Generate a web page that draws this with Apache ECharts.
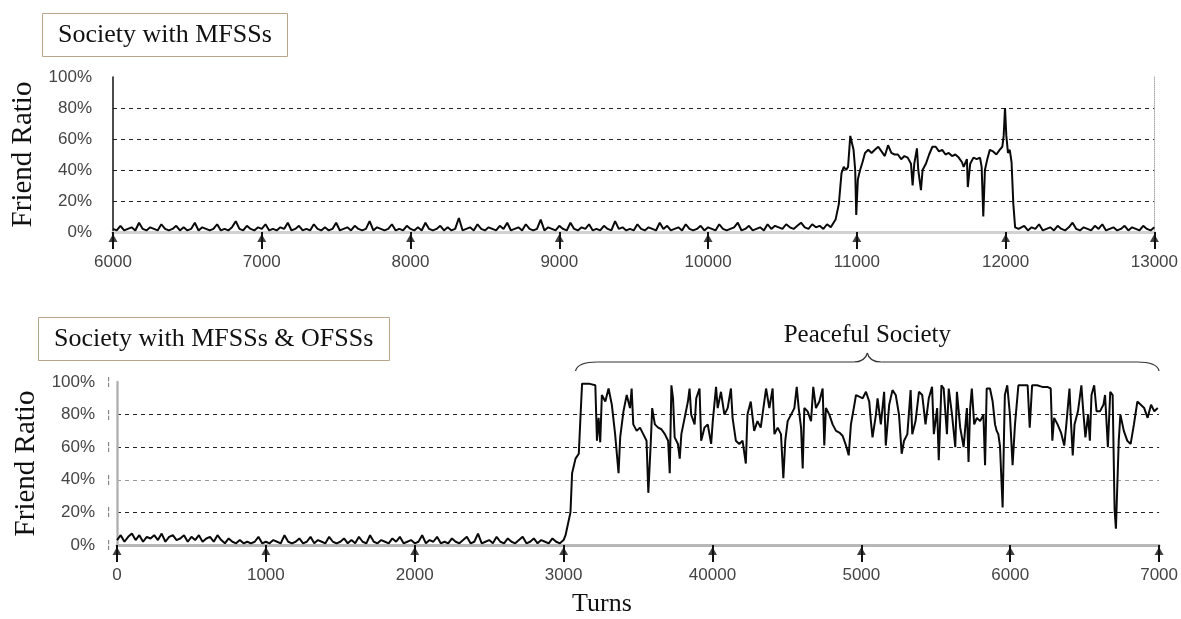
<!DOCTYPE html>
<html>
<head>
<meta charset="utf-8">
<title>Friend Ratio</title>
<script src="https://cdn.jsdelivr.net/npm/echarts@6.0.0/dist/echarts.min.js"></script>
<style>
  html, body { margin: 0; padding: 0; background: #fff; }
  #chart { width: 1181px; height: 619px; }
</style>
</head>
<body>
<div id="chart"></div>
<script>
// ticks
const topTicks = [6000, 7000, 8000, 9000, 10000, 11000, 12000, 13000]
const topTickLabels = ['6000', '7000', '8000', '9000', '10000', '11000', '12000', '13000']
const bottomTicks = [0, 1000, 2000, 3000, 4000, 5000, 6000, 7000]
const bottomTickLabels = ['0', '1000', '2000', '3000', '40000', '5000', '6000', '7000']

// top panel: noise 6000..10825 every 25 turns
const topNoiseStart = 6000
const topNoiseStep = 25
const topNoiseA = [
  2, 1, 4, 1, 2, 3, 1, 6, 2, 1, 3, 2, 1, 5, 2, 1, 2, 4, 1, 3,
  1, 2, 6, 1, 3, 2, 1, 2, 5, 1, 2, 1, 3, 7, 2, 1, 4, 2, 1, 3,
  2, 5, 1, 2, 1, 3, 2, 6, 1, 2, 4, 1, 2, 1, 5, 2, 1, 3, 1, 2,
  6, 1, 2, 3, 1, 4, 2, 1, 2, 7, 1, 3, 2, 1, 2, 5, 1, 2, 1, 4,
  2, 1, 3, 1, 6, 2, 1, 2, 4, 1, 3, 1, 2, 9, 1, 2, 3, 1, 5, 2,
  1, 3, 2, 1, 4, 2, 6, 1, 2, 3, 1, 5, 2, 1, 2, 8, 1, 3, 2, 1,
  4, 2, 1, 6, 2, 1, 3, 2, 5, 1, 2, 1, 4, 2, 1, 7, 2, 3, 1, 2,
  1, 5, 2, 1, 3, 2, 1, 6, 2, 4, 1, 2, 3, 1, 5, 2, 1, 2, 4, 1,
  3, 2, 1, 5, 2, 1, 2, 3, 6, 1, 2, 4, 1, 2, 3, 1, 5, 2, 4, 3,
  2, 5, 3, 2, 4, 6, 3, 2, 5, 3, 4, 2, 5, 3
]
// top panel: the burst between ~10850 and ~12090
const topBurst = [
  [10836, 3], [10857, 8], [10879, 18], [10897, 38], [10912, 42], [10928, 40], [10941, 42], [10956, 62],
  [10967, 63], [10978, 53], [10989, 40], [10996, 11], [11007, 34], [11022, 40], [11038, 45], [11055, 51],
  [11077, 53], [11099, 51], [11121, 53], [11144, 55], [11166, 52], [11188, 49], [11210, 56], [11232, 51],
  [11254, 50], [11276, 50], [11298, 47], [11320, 49], [11342, 48], [11364, 44], [11375, 30], [11386, 44],
  [11404, 54], [11413, 40], [11431, 27], [11442, 40], [11464, 44], [11486, 50], [11508, 55], [11530, 55],
  [11552, 52], [11574, 53], [11596, 50], [11618, 51], [11640, 49], [11662, 50], [11685, 48], [11707, 45],
  [11718, 42], [11740, 47], [11746, 29], [11762, 44], [11784, 48], [11806, 47], [11828, 48], [11839, 42],
  [11850, 10], [11861, 40], [11877, 47], [11894, 53], [11916, 52], [11938, 50], [11960, 53], [11978, 55],
  [11987, 62], [11996, 80], [12005, 62], [12016, 51], [12028, 53], [12040, 45], [12052, 18], [12064, 3],
  [12087, 2]
]
// top panel: noise 12100..13000 every 25 turns
const topNoiseBStart = 12100
const topNoiseB = [
  2, 4, 1, 3, 2, 5, 1, 2, 3, 1, 4, 2, 1, 3, 6, 2, 1, 3, 2, 1,
  4, 2, 5, 1, 2, 3, 1, 2, 4, 1, 3, 2, 1, 4, 2, 1, 3
]

// bottom panel: noise 0..3000 every 25 turns
const bottomNoiseStart = 0
const bottomNoiseStep = 25
const bottomNoise = [
  3, 6, 2, 5, 7, 3, 6, 2, 5, 4, 6, 3, 7, 2, 5, 6, 3, 4, 6, 2,
  5, 3, 6, 2, 4, 5, 2, 6, 3, 1, 4, 2, 1, 3, 1, 2, 1, 2, 5, 1,
  2, 1, 3, 2, 1, 6, 2, 1, 2, 4, 1, 2, 5, 1, 3, 2, 1, 5, 2, 1,
  2, 4, 1, 3, 1, 5, 2, 1, 6, 2, 1, 3, 2, 1, 4, 2, 5, 1, 2, 3,
  1, 2, 6, 1, 3, 2, 5, 1, 2, 1, 4, 2, 1, 3, 5, 1, 2, 7, 1, 2,
  3, 1, 5, 2, 1, 4, 2, 1, 3, 5, 1, 2, 4, 1, 3, 2, 1, 4, 2, 1,
  3
]
// bottom panel: rise and peaceful period
const bottomPeace = [
  [3013, 6], [3046, 20], [3057, 44], [3080, 53], [3102, 56], [3113, 78], [3124, 99], [3169, 99],
  [3213, 98], [3224, 64], [3235, 78], [3246, 63], [3257, 92], [3280, 88], [3302, 96], [3324, 86],
  [3346, 68], [3369, 44], [3380, 66], [3402, 82], [3424, 92], [3446, 84], [3457, 96], [3468, 74],
  [3491, 70], [3513, 72], [3535, 68], [3557, 64], [3569, 32], [3586, 64], [3595, 84], [3613, 74],
  [3635, 72], [3657, 71], [3680, 68], [3702, 64], [3713, 44], [3724, 98], [3735, 90], [3746, 66],
  [3768, 62], [3780, 53], [3791, 68], [3813, 78], [3835, 88], [3846, 96], [3857, 80], [3880, 74],
  [3891, 90], [3913, 96], [3924, 64], [3946, 72], [3968, 74], [3991, 62], [4002, 76], [4024, 97],
  [4035, 84], [4057, 94], [4080, 80], [4102, 84], [4124, 96], [4135, 78], [4157, 64], [4180, 62],
  [4202, 64], [4224, 50], [4235, 80], [4257, 88], [4280, 70], [4302, 76], [4324, 72],
  [4360, 96], [4382, 84], [4404, 96], [4416, 68], [4438, 72], [4460, 68], [4476, 41], [4489, 64],
  [4505, 76], [4528, 80], [4550, 84], [4566, 97], [4579, 84], [4595, 72], [4606, 47], [4617, 84],
  [4639, 82], [4662, 76], [4677, 97], [4695, 84], [4718, 88], [4740, 96], [4751, 61], [4762, 84],
  [4785, 80], [4807, 74], [4830, 70], [4852, 69], [4874, 67], [4897, 61], [4915, 55], [4930, 74],
  [4953, 86], [4964, 92], [4986, 91], [5009, 90], [5031, 94], [5053, 88], [5064, 76], [5075, 66],
  [5098, 80], [5109, 90], [5131, 74], [5153, 94], [5164, 61], [5187, 86], [5209, 95], [5231, 92],
  [5253, 80], [5271, 56], [5287, 64], [5309, 68], [5331, 95], [5342, 68], [5364, 76], [5387, 94],
  [5409, 92], [5431, 74], [5453, 90], [5475, 97], [5487, 68], [5509, 84], [5520, 52], [5538, 98],
  [5553, 96], [5575, 68], [5587, 96], [5609, 80], [5631, 60],
  [5642, 94], [5664, 72], [5687, 60], [5709, 84], [5720, 51], [5731, 84], [5742, 96], [5758, 74],
  [5776, 78], [5798, 76], [5820, 80], [5831, 49], [5842, 96], [5864, 96], [5882, 88], [5898, 74],
  [5909, 70], [5920, 68], [5931, 61], [5949, 23], [5958, 66], [5964, 92], [5980, 98], [5998, 80],
  [6016, 49], [6032, 74], [6055, 98], [6089, 98], [6117, 98], [6131, 72], [6147, 98], [6181, 98],
  [6215, 97], [6249, 97], [6272, 96], [6283, 64], [6295, 78], [6318, 74], [6341, 69], [6363, 61],
  [6375, 72], [6398, 96], [6409, 74], [6420, 55], [6432, 74], [6455, 82], [6478, 98], [6489, 84],
  [6505, 66], [6523, 80], [6535, 64], [6546, 92], [6564, 98], [6580, 82], [6603, 82], [6626, 86],
  [6637, 92], [6656, 60], [6672, 94], [6688, 92], [6701, 22], [6710, 10], [6729, 64], [6740, 80],
  [6763, 70], [6786, 64], [6809, 62], [6831, 74], [6854, 88], [6877, 86], [6900, 84], [6923, 78],
  [6946, 86], [6968, 82], [6991, 84]
]

// span of the "Peaceful Society" brace
const braceFrom = 3080
const braceTo = 7000

const serif = '"Liberation Serif", "DejaVu Serif", serif'
const sans = '"Liberation Sans", Arial, sans-serif'

const topData = topNoiseA.map((v, i) => [topNoiseStart + i * topNoiseStep, v])
  .concat(topBurst)
  .concat(topNoiseB.map((v, i) => [topNoiseBStart + i * topNoiseStep, v]))
const bottomData = bottomNoise.map((v, i) => [bottomNoiseStart + i * bottomNoiseStep, v])
  .concat(bottomPeace)

function bottomXAxis(gridIndex, ticks, labels) {
  return {
    type: 'value',
    gridIndex,
    min: ticks[0],
    max: ticks[ticks.length - 1],
    interval: 1000,
    axisLine: { lineStyle: { color: '#b4b4b4', width: 3 } },
    axisTick: { show: true, length: 17, lineStyle: { color: '#111', width: 2 } },
    axisLabel: {
      margin: 22,
      fontFamily: sans,
      fontSize: 17,
      color: '#444',
      formatter: v => labels[ticks.indexOf(v)] ?? '',
    },
    splitLine: { show: false },
  }
}
function topXAxis(gridIndex, ticks, color, width) {
  return {
    type: 'value',
    gridIndex,
    position: 'top',
    min: ticks[0],
    max: ticks[ticks.length - 1],
    axisLine: { lineStyle: { color, width } },
    axisTick: { show: false },
    axisLabel: { show: false },
    splitLine: { show: false },
  }
}
function leftYAxis(gridIndex, lineColor, lineWidth, labelMargin, gridColors, marks) {
  return {
    type: 'value',
    gridIndex,
    min: 0,
    max: 100,
    interval: 20,
    name: 'Friend Ratio',
    nameLocation: 'middle',
    nameGap: 70,
    nameTextStyle: { fontFamily: serif, fontSize: 29, color: '#111' },
    axisLine: { show: true, lineStyle: { color: lineColor, width: lineWidth } },
    axisTick: { show: false },
    axisLabel: {
      margin: labelMargin,
      fontFamily: sans,
      fontSize: 17,
      color: '#444',
      formatter: v => marks ? `{v|${v}%}{t|¦}` : `${v}%`,
      rich: {
        v: { fontFamily: sans, fontSize: 17, color: '#444' },
        t: { fontFamily: sans, fontSize: 11, color: '#666', padding: [0, 0, 0, 12] },
      },
    },
    splitLine: {
      show: true,
      showMinLine: false,
      showMaxLine: false,
      lineStyle: { type: [4, 4], color: gridColors, width: 1 },
    },
  }
}
function rightYAxis(gridIndex) {
  return {
    type: 'value',
    gridIndex,
    position: 'right',
    min: 0,
    max: 100,
    axisLine: { show: true, lineStyle: { color: '#aaa', type: 'dotted', width: 1 } },
    axisTick: { show: false },
    axisLabel: { show: false },
    splitLine: { show: false },
  }
}
function arrows(xAxisIndex, ticks) {
  return {
    type: 'scatter',
    xAxisIndex,
    yAxisIndex: xAxisIndex,
    data: ticks.map(t => [t, 0]),
    symbol: 'triangle',
    symbolSize: [9, 8],
    symbolOffset: [0, 6],
    itemStyle: { color: '#111' },
    clip: false,
    silent: true,
    z: 5,
  }
}
const titleText = { fontFamily: serif, fontSize: 26, fontWeight: 'normal', color: '#111' }

const chart = echarts.init(document.getElementById('chart'))
const option = {
  backgroundColor: '#fff',
  animation: false,
  title: [
    { text: 'Society with MFSSs', left: 42, top: 13, padding: [9, 16], borderColor: '#b9a58c', borderWidth: 1, textStyle: titleText },
    { text: 'Society with MFSSs & OFSSs', left: 38, top: 317, padding: [9, 16], borderColor: '#b9a58c', borderWidth: 1, textStyle: titleText },
    { text: 'Turns', left: 572, top: 591, padding: 0, textStyle: titleText },
  ],
  grid: [
    { left: 113, right: 20, top: 77, height: 155 },
    { left: 117, right: 17, top: 382, height: 163 },
  ],
  xAxis: [
    bottomXAxis(0, topTicks, topTickLabels),
    topXAxis(0, topTicks, '#d2d2d2', 3),
    bottomXAxis(1, bottomTicks, bottomTickLabels),
    topXAxis(1, bottomTicks, '#b8b8b8', 2),
  ],
  yAxis: [
    leftYAxis(0, '#111', 1.5, 21, ['#222'], false),
    rightYAxis(0),
    leftYAxis(1, '#bbb', 2.5, 7, ['#222', '#999', '#222', '#222'], true),
    rightYAxis(1),
  ],
  series: [
    {
      type: 'line', xAxisIndex: 0, yAxisIndex: 0, data: topData,
      symbol: 'none', lineStyle: { color: '#0a0a0a', width: 2 }, z: 3,
    },
    {
      type: 'line', xAxisIndex: 2, yAxisIndex: 2, data: bottomData,
      symbol: 'none', lineStyle: { color: '#0a0a0a', width: 2 }, z: 3,
    },
    arrows(0, topTicks),
    arrows(2, bottomTicks),
  ],
}
chart.setOption(option)

// brace over the peaceful period
const x0 = chart.convertToPixel({ xAxisIndex: 2 }, braceFrom)
const x1 = chart.convertToPixel({ xAxisIndex: 2 }, braceTo)
const xc = (x0 + x1) / 2
const gy = 382
const yMain = gy - 20
const yEnd = gy - 11
const yCusp = gy - 29
const braceStyle = { stroke: '#333', lineWidth: 1.2, fill: null }
chart.setOption({
  graphic: [
    { type: 'bezierCurve', shape: { x1: x0, y1: yEnd, x2: x0 + 22, y2: yMain, cpx1: x0 + 2, cpy1: yMain }, style: braceStyle },
    { type: 'line', shape: { x1: x0 + 22, y1: yMain, x2: xc - 14, y2: yMain }, style: braceStyle },
    { type: 'bezierCurve', shape: { x1: xc - 14, y1: yMain, x2: xc, y2: yCusp, cpx1: xc - 2, cpy1: yMain }, style: braceStyle },
    { type: 'bezierCurve', shape: { x1: xc, y1: yCusp, x2: xc + 14, y2: yMain, cpx1: xc + 2, cpy1: yMain }, style: braceStyle },
    { type: 'line', shape: { x1: xc + 14, y1: yMain, x2: x1 - 22, y2: yMain }, style: braceStyle },
    { type: 'bezierCurve', shape: { x1: x1 - 22, y1: yMain, x2: x1, y2: yEnd, cpx1: x1 - 2, cpy1: yMain }, style: braceStyle },
    {
      type: 'text', x: xc, y: gy - 47,
      style: { text: 'Peaceful Society', fontFamily: serif, fontSize: 25, fill: '#111', textAlign: 'center', textVerticalAlign: 'middle' },
    },
  ],
})
</script>
</body>
</html>
